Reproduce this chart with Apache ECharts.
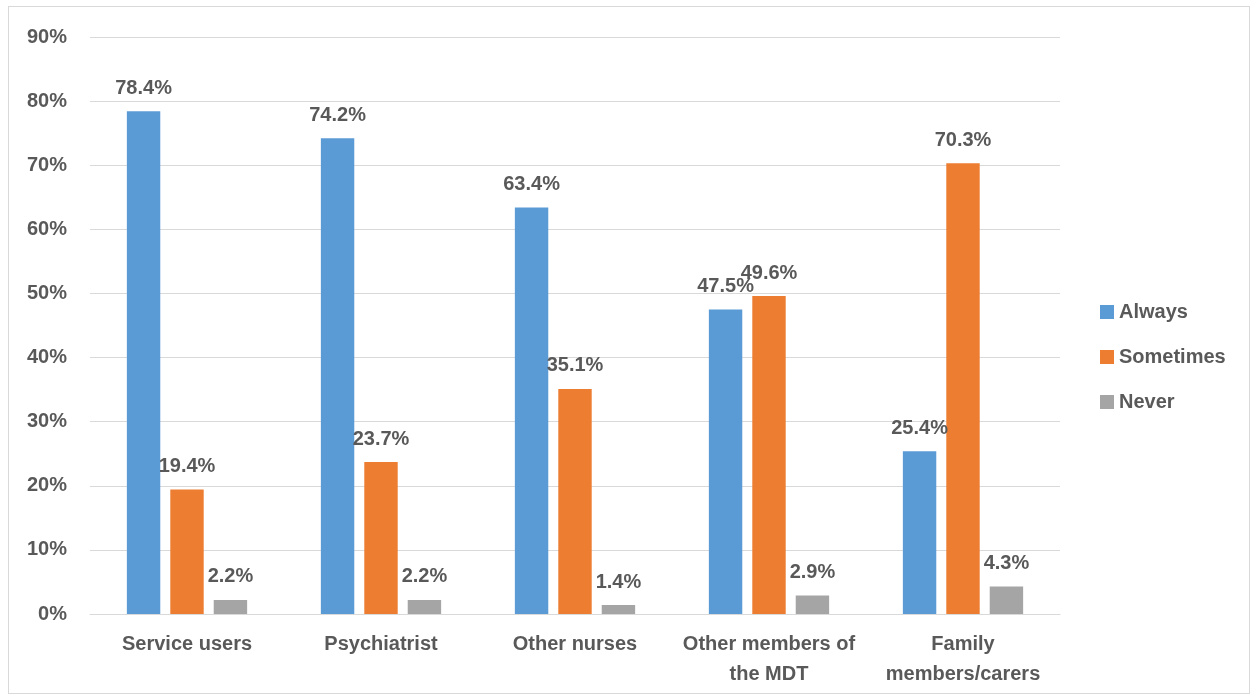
<!DOCTYPE html>
<html>
<head>
<meta charset="utf-8">
<script src="https://cdn.jsdelivr.net/npm/echarts@6/dist/echarts.min.js"></script>
<style>
  html, body { margin: 0; padding: 0; background: #fff; }
  #frame { position: absolute; left: 8px; top: 6px; width: 1242px; height: 688px; border: 1px solid #d9d9d9; box-sizing: border-box; }
  #chart { width: 1257px; height: 699px; position: absolute; left: 0; top: 0; }
</style>
</head>
<body>
<div id="frame"></div>
<div id="chart"></div>
<script>
// Who nurses involve, by response frequency (percent)
const categories = ['Service users', 'Psychiatrist', 'Other nurses', 'Other members of\nthe MDT', 'Family\nmembers/carers'];
const always = [78.4, 74.2, 63.4, 47.5, 25.4];
const sometimes = [19.4, 23.7, 35.1, 49.6, 70.3];
const never = [2.2, 2.2, 1.4, 2.9, 4.3];
const yTicks = [0, 10, 20, 30, 40, 50, 60, 70, 80, 90];

const textColor = '#595959';
const fontFamily = '"Liberation Sans", "Open Sans", sans-serif';

function makeSeries(name, data, color) {
  return {
    name: name,
    type: 'bar',
    data: data,
    barGap: '30%',
    barCategoryGap: '38%',
    itemStyle: { color: color },
    label: {
      show: true,
      position: 'top',
      distance: 13,
      formatter: p => p.value.toFixed(1) + '%',
      color: textColor,
      fontWeight: 'bold',
      fontSize: 20,
      fontFamily: fontFamily
    }
  };
}

const chart = echarts.init(document.getElementById('chart'), null, { renderer: 'canvas' });
chart.setOption({
  animation: false,
  textStyle: { fontFamily: fontFamily },
  grid: { left: 90, right: 197, top: 37, bottom: 85 },
  legend: {
    orient: 'vertical',
    left: 1095,
    top: 297,
    itemGap: 25,
    itemWidth: 14,
    itemHeight: 14,
    icon: 'rect',
    textStyle: { color: textColor, fontSize: 20, fontWeight: 'bold', fontFamily: fontFamily },
    data: ['Always', 'Sometimes', 'Never']
  },
  xAxis: {
    type: 'category',
    data: categories,
    axisLine: { lineStyle: { color: '#d9d9d9' } },
    axisTick: { show: false },
    axisLabel: {
      color: textColor,
      fontSize: 20,
      fontWeight: 'bold',
      margin: 15,
      lineHeight: 30,
      interval: 0
    }
  },
  yAxis: {
    type: 'value',
    min: yTicks[0],
    max: yTicks[yTicks.length - 1],
    interval: 10,
    axisLine: { show: false },
    axisTick: { show: false },
    splitLine: { lineStyle: { color: '#d9d9d9' } },
    axisLabel: {
      formatter: v => v + '%',
      color: textColor,
      fontSize: 20,
      fontWeight: 'bold',
      margin: 23
    }
  },
  series: [
    makeSeries('Always', always, '#5B9BD5'),
    makeSeries('Sometimes', sometimes, '#ED7D31'),
    makeSeries('Never', never, '#A5A5A5')
  ]
});
</script>
</body>
</html>
